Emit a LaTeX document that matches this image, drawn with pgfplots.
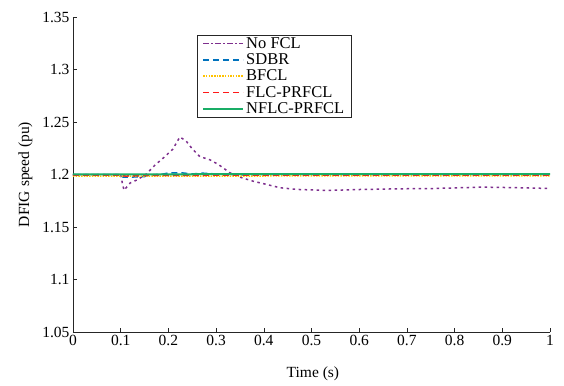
\documentclass[border=0pt]{standalone}
\usepackage{pgfplots}
\pgfplotsset{compat=1.18}
\usepackage{fontspec}
\setmainfont{Liberation Serif}
\definecolor{cpur}{rgb}{0.494,0.184,0.556}
\definecolor{cblu}{rgb}{0,0.447,0.741}
\definecolor{cyel}{rgb}{1,0.76,0}
\definecolor{cred}{rgb}{1,0.1,0.1}
\definecolor{cgrn}{rgb}{0.1,0.68,0.4}
\definecolor{caxis}{rgb}{0.15,0.15,0.15}
\begin{document}
\begin{tikzpicture}
\begin{axis}[
  at={(0,0)}, anchor=south west,
  scale only axis, width=477pt, height=315pt,
  xmin=0, xmax=1, ymin=1.05, ymax=1.35,
  axis lines=left, axis line style={-, caxis, line width=0.8pt},
  tick align=inside, major tick length=4pt,
  tick style={caxis, line width=0.6pt},
  xtick={0,0.1,...,1}, ytick={1.05,1.1,...,1.35},
  xticklabels={0,0.1,0.2,0.3,0.4,0.5,0.6,0.7,0.8,0.9,1},
  yticklabels={1.05,1.1,1.15,1.2,1.25,1.3,1.35},
  /pgf/number format/assume math mode=true,
  ticklabel style={font=\fontsize{15.5}{17}\selectfont},
  xlabel={Time (s)}, ylabel={DFIG speed (pu)},
  xlabel style={font=\fontsize{15.5}{17}\selectfont, at={(axis description cs:0.503,-0.133)}, anchor=center},
  ylabel style={font=\fontsize{15.5}{17}\selectfont, at={(axis description cs:-0.1,0.5)}, rotate=0, anchor=center},
  legend style={at={(rel axis cs:0.26,0.943)}, anchor=north west, draw=caxis,
    font=\fontsize{16.5}{17}\selectfont, inner xsep=5pt, inner ysep=0pt},
  legend cell align=left,
  legend image code/.code={\draw[#1] (4pt,0pt) -- (44pt,0pt);},
]
\addplot[cpur, line width=1.5pt, dash pattern=on 2.5pt off 3.5pt,
  legend image post style={dash pattern=on 6pt off 2pt on 2pt off 2pt}] coordinates {
(0,1.2) (0.1,1.2) (0.104,1.1905) (0.107,1.185) (0.12,1.192) (0.135,1.195)
(0.154,1.2006) (0.172,1.209) (0.19,1.216) (0.209,1.224) (0.224,1.2357)
(0.237,1.232) (0.249,1.225) (0.266,1.217) (0.287,1.214) (0.305,1.2095)
(0.329,1.2016) (0.35,1.1975) (0.377,1.1937) (0.406,1.1905) (0.434,1.1874)
(0.469,1.1858) (0.532,1.1848) (0.608,1.1858) (0.692,1.1864) (0.75,1.1866)
(0.86,1.188) (0.93,1.1874) (1,1.1867)};
\addlegendentry{No FCL}
\addplot[cblu, line width=1.5pt, dash pattern=on 6pt off 4pt] coordinates {
(0,1.2) (0.1,1.2) (0.105,1.1975) (0.12,1.1975) (0.15,1.198) (0.16,1.1995)
(0.19,1.2005) (0.2,1.2015) (0.23,1.2015) (0.25,1.2005) (0.27,1.2013)
(0.3,1.2005) (0.35,1.1995) (0.4,1.2) (0.6,1.2002) (1,1.2)};
\addlegendentry{SDBR}
\addplot[cyel, line width=1.5pt, dash pattern=on 1.5pt off 1.2pt] coordinates {
(0,1.1985) (0.1,1.1985) (0.3,1.1985) (0.6,1.1987) (1,1.1987)};
\addlegendentry{BFCL}
\addplot[cred, line width=1.5pt, dash pattern=on 6pt off 4pt] coordinates {
(0,1.1993) (0.1,1.1993) (0.11,1.1985) (0.15,1.1992) (0.3,1.1993) (1,1.1995)};
\addlegendentry{FLC-PRFCL}
\addplot[cgrn, line width=2pt] coordinates {
(0,1.2002) (0.1,1.2002) (0.5,1.2003) (1,1.2004)};
\addlegendentry{NFLC-PRFCL}
\end{axis}
\pgfresetboundingbox
\useasboundingbox (-73pt,-53pt) rectangle (491pt,332pt);
\end{tikzpicture}
\end{document}
